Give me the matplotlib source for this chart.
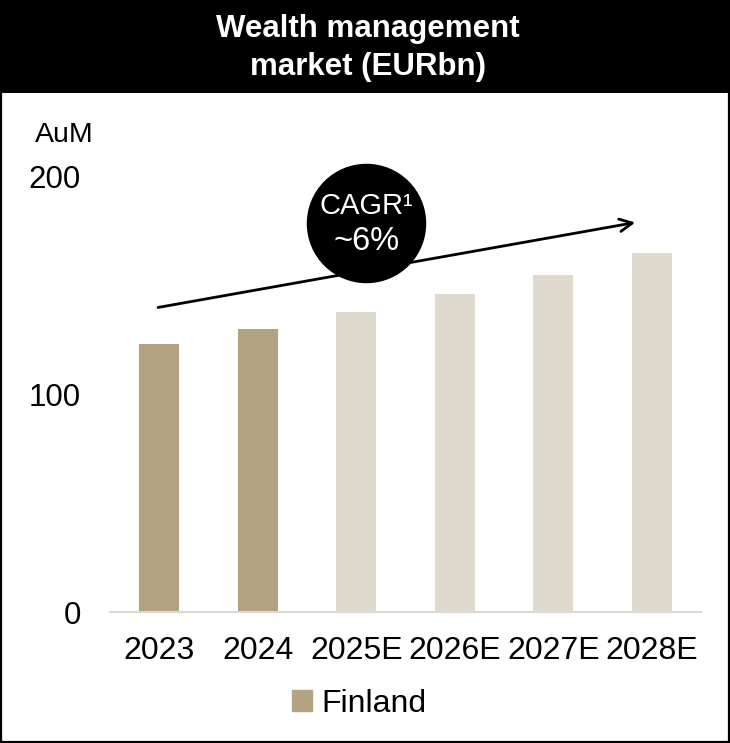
import matplotlib.pyplot as plt
from matplotlib.patches import Rectangle, Patch

# dados do gráfico
anos = ["2023", "2024", "2025E", "2026E", "2027E", "2028E"]
aum = [123, 130, 138, 146, 155, 165]
estimado = [False, False, True, True, True, True]
serie = "Finland"
titulo = "Wealth management\nmarket (EURbn)"

plt.rcParams['font.family'] = ['Liberation Sans', 'DejaVu Sans']

W, H = 730, 743
fig = plt.figure(figsize=(W / 100, H / 100), dpi=100)

# cabeçalho preto + moldura
fig.patches.append(Rectangle((0, 1 - 93 / H), 1, 93 / H, transform=fig.transFigure,
                             facecolor='black', edgecolor='none', zorder=0))
fig.patches.append(Rectangle((1 / W, 1 / H), 1 - 2 / W, 1 - 2 / H, transform=fig.transFigure,
                             facecolor='none', edgecolor='black', linewidth=1.6, zorder=5))
fig.text(368 / W, 1 - 48 / H, titulo, color='white', fontsize=22.5, fontweight='bold',
         ha='center', va='center', linespacing=1.32)

ax = fig.add_axes([110 / W, (H - 612) / H, 591 / W, (612 - 177) / H])
cores = ['#E0D9CE' if e else '#B3A383' for e in estimado]
ax.bar(range(len(anos)), aum, width=0.41, color=cores)

ax.set_xlim(-0.5, len(anos) - 0.5)
ax.set_ylim(0, 200)
ax.set_yticks([0, 100, 200])
ax.set_xticks(range(len(anos)))
ax.set_xticklabels(anos)
ax.tick_params(axis='y', length=0, pad=21, labelsize=22.5)
ax.tick_params(axis='x', length=0, pad=17, labelsize=23)
for s in ['top', 'right', 'left']:
    ax.spines[s].set_visible(False)
ax.spines['bottom'].set_color('#D9D9D9')
ax.spines['bottom'].set_linewidth(1.5)

fig.text(35 / W, 1 - 135 / H, "AuM", fontsize=20.5, ha='left', va='center')

# seta CAGR
ax.annotate("", xy=(4.86, 179.3), xytext=(-0.04, 139.8),
            arrowprops=dict(arrowstyle='->,head_length=0.9,head_width=0.45', color='black', lw=2),
            annotation_clip=False)
ax.scatter([2.10], [178.9], s=85 ** 2, color='black', zorder=4, clip_on=False)
ax.text(2.10, 186.5, "CAGR\u00b9", color='white', fontsize=21, ha='center', va='center', zorder=5)
ax.text(2.10, 170.5, "~6%", color='white', fontsize=23.5, ha='center', va='center', zorder=5)

fig.legend(handles=[Patch(color='#B3A383', label=serie)], loc='center',
           bbox_to_anchor=(359 / W, 1 - 704 / H), frameon=False, fontsize=23,
           handlelength=0.62, handleheight=0.62, handletextpad=0.3)

fig.savefig("out.png", dpi=100)
